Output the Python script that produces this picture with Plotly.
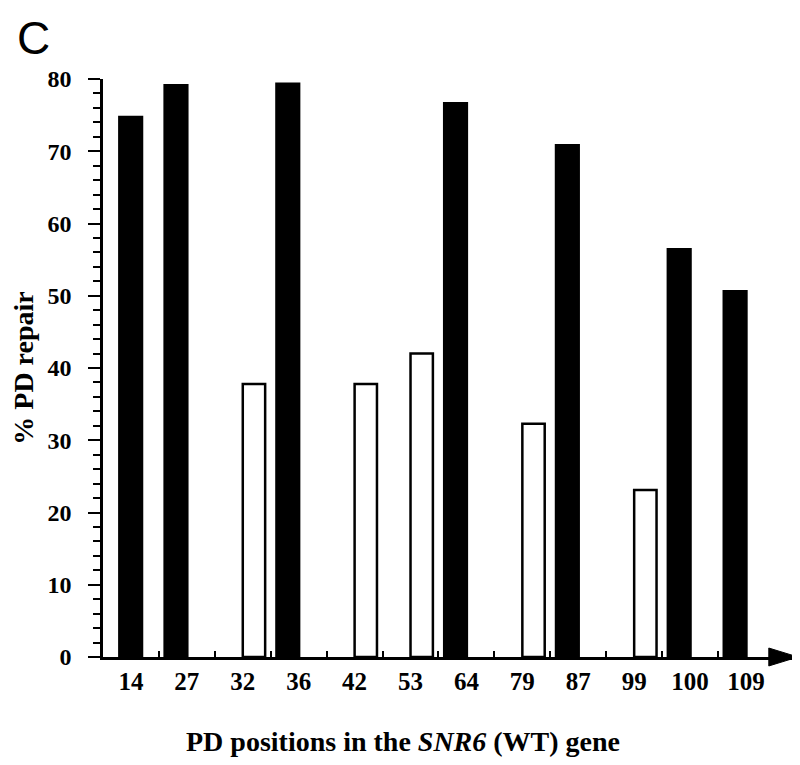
import plotly.graph_objects as go

# ---- data ----
positions = ["14", "27", "32", "36", "42", "53", "64", "79", "87", "99", "100", "109"]
filled_repair = [74.9, 79.3, None, 79.5, None, None, 76.8, None, 71.0, None, 56.6, 50.8]
open_repair = [None, None, 37.8, None, 37.8, 42.0, None, 32.3, None, 23.1, None, None]
y_ticks = [0, 10, 20, 30, 40, 50, 60, 70, 80]

xs = list(range(len(positions)))
FONT = "Liberation Serif"

black_offsets = [-0.23 if i == 0 else -0.42 for i in xs]

fig = go.Figure()
fig.add_trace(go.Bar(
    x=xs, y=filled_repair, width=0.45, offset=black_offsets,
    marker=dict(color="black", line=dict(color="black", width=0)),
    showlegend=False,
))
fig.add_trace(go.Bar(
    x=xs, y=open_repair, width=0.40, offset=0.0,
    marker=dict(color="white", line=dict(color="black", width=2.5)),
    showlegend=False,
))

fig.update_layout(
    width=800, height=765,
    margin=dict(l=89, r=10, t=71, b=116),
    paper_bgcolor="white", plot_bgcolor="white",
    barmode="overlay",
    font=dict(family=FONT, color="black"),
    xaxis=dict(
        range=[-0.5, 11.93],
        tickmode="array", tickvals=xs, ticktext=positions,
        ticks="", showgrid=False, zeroline=False,
        showline=True, linecolor="black", linewidth=2.5,
        tickfont=dict(family=FONT, size=25, color="black", weight="bold"),
        minor=dict(tickmode="array", tickvals=[i + 0.5 for i in xs[:-1]],
                   ticks="inside", ticklen=6, tickwidth=2, tickcolor="black",
                   showgrid=False),
    ),
    yaxis=dict(
        range=[0, 80],
        tickmode="array", tickvals=y_ticks,
        ticks="outside", ticklen=12, tickwidth=2, tickcolor="black",
        showgrid=False, zeroline=False,
        showline=True, linecolor="black", linewidth=2.5,
        ticklabelstandoff=12,
        tickfont=dict(family=FONT, size=24, color="black", weight="bold"),
        minor=dict(dtick=2, tick0=0, ticks="outside", ticklen=7, tickwidth=2,
                   tickcolor="black", showgrid=False),
        title=dict(text="% PD repair", standoff=10,
                   font=dict(family=FONT, size=28, color="black", weight="bold")),
    ),
    shapes=[dict(
        type="path", xref="paper", yref="paper",
        path="M 0.958 0.0155 L 1.0 0 L 0.958 -0.0155 Z",
        fillcolor="black", line=dict(color="black", width=1),
    )],
    annotations=[
        dict(text="C", xref="paper", yref="paper", x=-0.126, y=1.12,
             xanchor="left", yanchor="top", showarrow=False,
             font=dict(family="Liberation Sans", size=46, color="black")),
        dict(text="PD positions in the <i>SNR6</i> (WT) gene",
             xref="paper", yref="paper", x=0.432, y=-0.147,
             xanchor="center", yanchor="middle", showarrow=False,
             font=dict(family=FONT, size=28, color="black", weight="bold")),
    ],
)

fig.write_html("out.html")
